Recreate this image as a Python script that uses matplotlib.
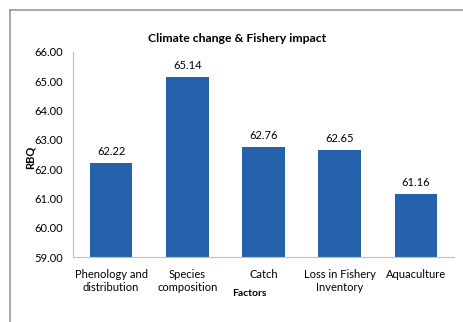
import matplotlib.pyplot as plt
from matplotlib.lines import Line2D

factors = ['Phenology and\ndistribution', 'Species\ncomposition', 'Catch',
           'Loss in Fishery\nInventory', 'Aquaculture']
rbq = [62.22, 65.14, 62.76, 62.65, 61.16]
y_ticks = [59, 60, 61, 62, 63, 64, 65, 66]

plt.rcParams['font.family'] = ['Lato', 'DejaVu Sans']

fig = plt.figure(figsize=(4.64, 3.22), dpi=100)
ax = fig.add_axes([73/464, 1 - 257/322, 381/464, (257 - 52)/322])

x = range(len(factors))
bars = ax.bar(x, [v - 59 for v in rbq], bottom=59, width=0.56, color='#2662AC')
for xi, v in zip(x, rbq):
    ax.text(xi, v + 0.2, f'{v:.2f}', ha='center', va='bottom', fontsize=8)

ax.set_xlim(-0.5, 4.5)
ax.set_ylim(59, 66)
ax.set_yticks(y_ticks)
ax.set_yticklabels([f'{t:.2f}' for t in y_ticks], fontsize=8)
ax.set_xticks(list(x))
ax.set_xticklabels(factors, fontsize=8)
ax.tick_params(axis='y', length=0, pad=7)
ax.tick_params(axis='x', length=0, pad=9)
for s in ['top', 'right']:
    ax.spines[s].set_visible(False)
for s in ['left', 'bottom']:
    ax.spines[s].set_color('#bfbfbf')

fig.text(237/464, 1 - 38/322, 'Climate change & Fishery impact', ha='center', va='center',
         fontsize=8.8, fontweight='bold')
fig.text(30/464, 1 - 157/322, 'RBQ', ha='center', va='center', rotation=90,
         fontsize=8, fontweight='bold')
fig.text(249/464, 1 - 293/322, 'Factors', ha='center', va='center',
         fontsize=7.5, fontweight='bold')

# outer chart border
fig.add_artist(Line2D([10.5/464, 10.5/464], [0, 1 - 9.5/322], color='#999999', lw=1.2))
fig.add_artist(Line2D([10.5/464, 1], [1 - 9.5/322, 1 - 9.5/322], color='#999999', lw=1.2))

fig.savefig('out.png', dpi=100)
